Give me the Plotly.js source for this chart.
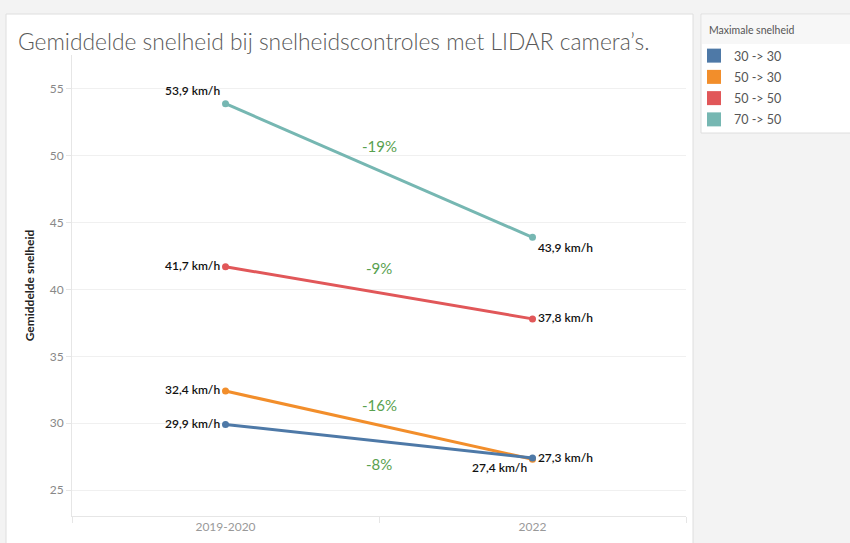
<!DOCTYPE html>
<html>
<head>
<meta charset="utf-8">
<script src="https://cdn.plot.ly/plotly-3.0.1.min.js"></script>
<style>html,body{margin:0;padding:0;background:#f3f3f3;}#chart{width:850px;height:543px;}</style>
</head>
<body>
<div id="chart"></div>
<script>
// ---- data ----
const periods = ['2019-2020', '2022'];
const seriesNames = ['30 -> 30', '50 -> 30', '50 -> 50', '70 -> 50'];
const seriesColors = ['#4e79a7', '#f28e2b', '#e15759', '#76b7b2'];
const speed_30_30 = [29.9, 27.4];
const speed_50_30 = [32.4, 27.3];
const speed_50_50 = [41.7, 37.8];
const speed_70_50 = [53.9, 43.9];
const pctLabels = ['-8%', '-16%', '-9%', '-19%'];
const yTicks = [25, 30, 35, 40, 45, 50, 55];

// label placement per series (start, end)
const labelPos = [
  ['middle left', 'bottom left'],
  ['middle left', 'middle right'],
  ['middle left', 'middle right'],
  ['top left', 'bottom right']
];
const pctShift = [-23, 20, 25, 25];

const allSeries = [speed_30_30, speed_50_30, speed_50_50, speed_70_50];
const fmt = v => v.toFixed(1).replace('.', ',') + ' km/h';

// ---- geometry helpers (layout only) ----
const W = 850, H = 543;
const M = {l: 72, r: 164, t: 55, b: 27};
const pw = W - M.l - M.r, ph = H - M.t - M.b;
const px = x => (x - M.l) / pw;
const py = y => (H - M.b - y) / ph;
const FONT = 'Lato, Open Sans, sans-serif';

const traces = [];
// draw order: teal, red, orange, blue (blue on top)
[3, 2, 1, 0].forEach(i => {
  traces.push({
    type: 'scatter',
    mode: 'lines+markers+text',
    x: periods,
    y: allSeries[i],
    text: allSeries[i].map(fmt),
    textposition: labelPos[i],
    textfont: {family: FONT, size: 12, color: '#111', weight: 600},
    line: {color: seriesColors[i], width: 3},
    marker: {color: seriesColors[i], size: 7},
    showlegend: false,
    hoverinfo: 'skip',
    cliponaxis: false
  });
});
// legend entries
seriesNames.forEach((n, i) => {
  traces.push({
    type: 'scatter', mode: 'markers', x: [null], y: [null], name: n,
    legendgroup: 'g' + i,
    marker: {color: seriesColors[i], symbol: 'square', size: 14},
    showlegend: true
  });
});

const annotations = allSeries.map((s, i) => ({
  x: 0.5, y: (s[0] + s[1]) / 2, xref: 'x', yref: 'y',
  text: pctLabels[i], showarrow: false, yshift: pctShift[i],
  font: {family: FONT, size: 15, color: '#59a14f'}
}));
annotations.push({
  xref: 'paper', yref: 'paper', x: px(707), y: py(30),
  xanchor: 'left', yanchor: 'middle', showarrow: false,
  text: 'Maximale snelheid',
  font: {family: FONT, size: 10.5, color: '#555'}
});

const shapes = [
  // white chart panel
  {type: 'rect', xref: 'paper', yref: 'paper', layer: 'below',
   x0: px(6), x1: px(693), y0: py(14), y1: py(545),
   fillcolor: '#ffffff', line: {color: '#dedede', width: 1}},
  // legend panel
  {type: 'rect', xref: 'paper', yref: 'paper', layer: 'below',
   x0: px(701), x1: px(851), y0: py(14), y1: py(133),
   fillcolor: '#ffffff', line: {color: '#dedede', width: 1}},
  {type: 'rect', xref: 'paper', yref: 'paper', layer: 'below',
   x0: px(702), x1: px(850), y0: py(15), y1: py(44),
   fillcolor: '#f7f7f7', line: {width: 0}}
];

const layout = {
  width: W, height: H,
  margin: M,
  paper_bgcolor: '#f3f3f3',
  plot_bgcolor: '#ffffff',
  title: {
    text: 'Gemiddelde snelheid bij snelheidscontroles met LIDAR camera’s.',
    x: 18 / W, xanchor: 'left', xref: 'container',
    y: 1 - 42 / H, yanchor: 'middle', yref: 'container',
    font: {family: FONT, size: 22.8, color: '#595959', weight: 300}
  },
  xaxis: {
    type: 'category', range: [-0.5, 1.5],
    showgrid: false, zeroline: false,
    showline: true, linecolor: '#e6e6e6', linewidth: 1,
    tickson: 'boundaries', ticks: 'outside', ticklen: 6, tickcolor: '#e6e6e6',
    tickfont: {family: FONT, size: 12, color: '#999999'}
  },
  yaxis: {
    range: [23.055, 57.54],
    tickvals: yTicks,
    showgrid: true, gridcolor: '#f0f0f0', gridwidth: 1, zeroline: false,
    showline: true, linecolor: '#e6e6e6', linewidth: 1,
    ticks: 'outside', ticklen: 5, tickcolor: '#e6e6e6',
    tickfont: {family: FONT, size: 12, color: '#888888'},
    title: {text: '<b>Gemiddelde snelheid</b>', standoff: 12,
            font: {family: FONT, size: 12, color: '#222'}}
  },
  legend: {
    x: px(694), xanchor: 'left', xref: 'paper',
    y: py(41), yanchor: 'top', yref: 'paper',
    bgcolor: 'rgba(0,0,0,0)',
    traceorder: 'grouped',
    font: {family: FONT, size: 12.5, color: '#555'},
    itemwidth: 30, tracegroupgap: 2
  },
  shapes: shapes,
  annotations: annotations,
  showlegend: true
};

Plotly.newPlot('chart', traces, layout, {displayModeBar: false, staticPlot: true});
</script>
</body>
</html>
